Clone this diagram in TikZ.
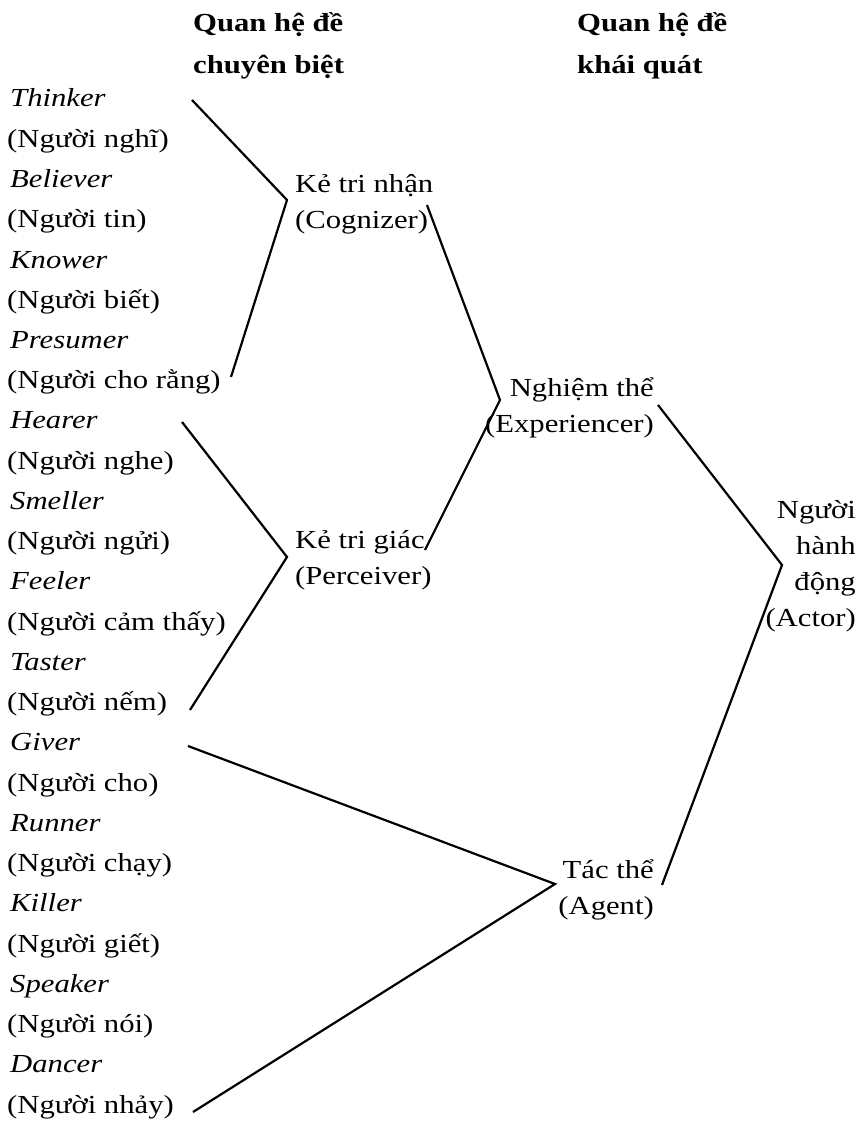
\documentclass[tikz,border=0pt]{standalone}
\usepackage{fontspec}
\setmainfont{Liberation Serif}[FakeStretch=1.18]
\usetikzlibrary{positioning}

\tikzset{
    word/.style={anchor=base west, inner sep=0pt, font=\fontsize{26}{36}\selectfont},
    term/.style={word, font=\fontsize{26}{36}\selectfont\itshape},
    role/.style={inner sep=0pt, font=\fontsize{26}{36}\selectfont},
    head/.style={anchor=base west, inner sep=0pt, align=left, font=\fontsize{26}{42}\selectfont\bfseries},
    link/.style={line width=2.2pt}
}

\begin{document}
\begin{tikzpicture}[x=1pt,y=-1pt]
    \useasboundingbox (0,0) rectangle (860,1123);

    % Headers (base = last line)
    \node[head] (hspec) at (193,74) {Quan hệ đề\\chuyên biệt};
    \node[head] (hgen) at (577,74) {Quan hệ đề\\khái quát};

    % Specific roles
    \node[term] (thinker) at (10,107) {Thinker};
    \node[word] (nghi) at (7,147.2) {(Người nghĩ)};
    \node[term] (believer) at (10,187.5) {Believer};
    \node[word] (tin) at (7,227.7) {(Người tin)};
    \node[term] (knower) at (10,268) {Knower};
    \node[word] (biet) at (7,308.2) {(Người biết)};
    \node[term] (presumer) at (10,348.4) {Presumer};
    \node[word] (chorang) at (7,388.7) {(Người cho rằng)};
    \node[term] (hearer) at (10,428.9) {Hearer};
    \node[word] (nghe) at (7,469.2) {(Người nghe)};
    \node[term] (smeller) at (10,509.4) {Smeller};
    \node[word] (ngui) at (7,549.6) {(Người ngửi)};
    \node[term] (feeler) at (10,589.9) {Feeler};
    \node[word] (camthay) at (7,630.1) {(Người cảm thấy)};
    \node[term] (taster) at (10,670.4) {Taster};
    \node[word] (nem) at (7,710.6) {(Người nếm)};
    \node[term] (giver) at (10,750.8) {Giver};
    \node[word] (cho) at (7,791.1) {(Người cho)};
    \node[term] (runner) at (10,831.3) {Runner};
    \node[word] (chay) at (7,871.6) {(Người chạy)};
    \node[term] (killer) at (10,911.8) {Killer};
    \node[word] (giet) at (7,952) {(Người giết)};
    \node[term] (speaker) at (10,992.3) {Speaker};
    \node[word] (noi) at (7,1032.5) {(Người nói)};
    \node[term] (dancer) at (10,1072.8) {Dancer};
    \node[word] (nhay) at (7,1113) {(Người nhảy)};

    % General roles (base = last line)
    \node[role, anchor=base west, align=left] (cognizer) at (295,229) {Kẻ tri nhận\\(Cognizer)};
    \node[role, anchor=base west, align=left] (perceiver) at (295,584) {Kẻ tri giác\\(Perceiver)};
    \node[role, anchor=base east, align=right] (experiencer) at (654,432) {Nghiệm thể\\(Experiencer)};
    \node[role, anchor=base east, align=right] (agent) at (654,914) {Tác thể\\(Agent)};
    \node[role, anchor=base east, align=right] (actor) at (856,626) {Người\\hành\\động\\(Actor)};

    % Bracket ends
    \coordinate (cogtop) at (192,100);
    \coordinate (cogtip) at (287,200);
    \coordinate (cogbot) at (231,377);
    \coordinate (pertop) at (182,422);
    \coordinate (pertip) at (287,557);
    \coordinate (perbot) at (190,710);
    \coordinate (exptop) at (427,205);
    \coordinate (exptip) at (500,400);
    \coordinate (expbot) at (425,550);
    \coordinate (agtop) at (188,746);
    \coordinate (agtip) at (555,884);
    \coordinate (agbot) at (193,1112);
    \coordinate (acttop) at (658,405);
    \coordinate (acttip) at (782,565);
    \coordinate (actbot) at (662,885);

    % Brackets
    \draw[link] (cogtop) -- (cogtip) -- (cogbot); % Cognizer
    \draw[link] (pertop) -- (pertip) -- (perbot); % Perceiver
    \draw[link] (exptop) -- (exptip) -- (expbot); % Experiencer
    \draw[link] (agtop) -- (agtip) -- (agbot); % Agent
    \draw[link] (acttop) -- (acttip) -- (actbot); % Actor
\end{tikzpicture}
\end{document}
